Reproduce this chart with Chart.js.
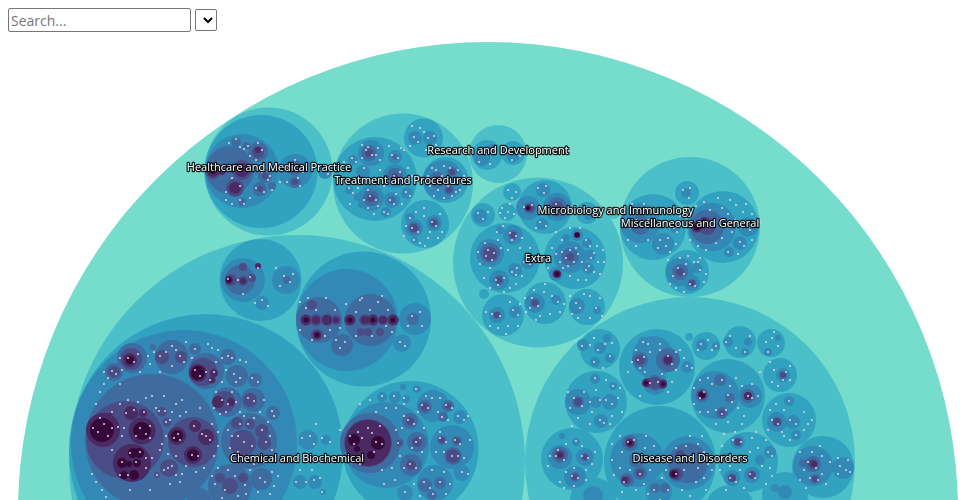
<!DOCTYPE html>
<html>
<head>
<meta charset="utf-8">
<title>Topic map</title>
<script src="https://cdn.jsdelivr.net/npm/chart.js@4"></script>
<style>
  html, body { margin: 0; padding: 0; background: #fff; overflow: hidden; }
  #topicMap { position: absolute; left: 0; top: 0; }
  #search {
    position: absolute; left: 8px; top: 8px; width: 183px; height: 24px; box-sizing: border-box;
    font: 14px "Open Sans", sans-serif; padding: 1px 2px; border: 1px solid #767676; border-radius: 2px;
  }
  #search::placeholder { color: #757575; }
  #filter {
    position: absolute; left: 195px; top: 9px; width: 22px; height: 22px; box-sizing: border-box;
    border: 1px solid #767676; border-radius: 2px; background-color: #fff;
  }
</style>
</head>
<body>
<canvas id="topicMap" width="960" height="500"></canvas>
<input id="search" type="text" placeholder="Search...">
<select id="filter"></select>
<script>
// labels of the top level topics
const topicNames = ['Healthcare and Medical Practice', 'Treatment and Procedures', 'Research and Development',
  'Microbiology and Immunology', 'Miscellaneous and General', 'Extra', 'Chemical and Biochemical', 'Disease and Disorders'];
const topicLabelX = [269, 403, 498, 615.5, 690, 538, 297, 690];
const topicLabelY = [168, 181, 151, 211, 224, 259, 459, 459];

// circles per depth, each one is [x, y, r]
const rootCircle = [[488, 512, 470]];

const depth1 = [
  [268.5,171.5,64],[403,183.5,70],[498,154,29],[538,262.5,85],[690,227,70],[297,463,228],[690,462,165],[614,213,6]
];

const depth2 = [
  [261,171.5,56.5],[375,179,42],[423.5,138,19.5],[445.5,180,23],[425,224,24],
  [487,155,15],[513,153,12],
  [512,192,9],[545,207,27],[483,215,12],[507,212,9],[505,258,35],[575,258,31],[545,303,21],[587,307,18],[503,315,21],[484,294,5],[587,213,11],
  [653,227,33],[723,227,36],[687,193,12],[687,272,22],
  [206,451,137],[260.5,280,41],[363.5,319,67.5],[410.5,449,68],[316,442,18],[313,484,21],
  [600,349,20],[657,367,38],[706,346,14],[740,342,16],[771,343,14],[689,337,4],[780,375,17],[728,396,37],[789,420,27],[823,467,31],
  [596,402,31],[572,459,31],[660,462,56],[748,462,30],[785,495,23],[593,500,23],[730,510,25]
];

const depth3 = [
  [242,171,37],[295,171,17],[325,172,7],
  [371,153,13],[395,176,12],[371,198,13],[392,200,8],[353,160,5],[395,157,7],[407,193,6],[349,190,4],[361,205,3],[386,212,5],[363,172,7],[358,197,4],
  [415,138,7],[430,138,7],[443,180,20],[414,228,9],[434,223,8],[410,218,5],[415,240,3],
  [482,158,8],[492,150,6],[513,155,7],[505,148,3],
  [528,208,12],[557,207,14],[543,190,7],[542,224,6],[480,216,7],[589,214,6],
  [490,253,14],[513,235,10],[499,280,10],[515,270,7],[528,262,7],[500,230,4],
  [570,257,16],[556,274,7],[577,235,6],[587,243,5],[588,268,6],[590,255,6],[566,238,4],
  [535,303,10],[556,300,5],[577,306,8],[597,310,4],[497,315,8],[515,312,6],
  [640,223,20],[663,244,11],[675,228,5],
  [712,227,24],[748,227,10],[740,243,7],[729,252,5],
  [686,193,5],[680,272,14],[692,283,8],[697,268,5],
  [184,443,113],[347,320,51],[415,319,16],[402,343,9],[243,280,22],[286,280,14],[262,303,7],
  [386,445,43],[433,406,16],[460,417,7],[452,447,22],[462,473,8],[435,483,18],[405,493,8],[395,397,6],[382,397,5],[406,399,4],[417,389,4],[403,387,3],
  [308,440,10],[326,440,5],[300,482,7],[315,482,7],[323,492,3],
  [653,357,21],[687,367,6],[643,342,5],[655,383,12],
  [715,395,24],[750,396,12],[583,345,6],[600,348,6],[610,358,5],[607,338,4],[595,362,5],
  [702,345,6],[716,346,4],[728,342,5],[745,352,4],[748,342,4],[778,338,3],[768,352,4],[783,375,7],
  [777,422,10],[793,422,7],[789,401,5],[796,435,5],
  [813,466,20],[843,468,11],
  [578,402,13],[596,402,6],[610,402,8],[601,421,7],[595,379,5],[613,386,4],
  [560,457,12],[585,457,9],[575,477,11],[576,442,4],[562,436,3],
  [637,460,27],[688,463,27],[659,492,13],[738,442,7],[752,475,8],[732,478,8],[770,452,6],[726,458,5],[760,460,5],
  [785,492,7],[775,488,4],[593,496,10]
];

const depth4 = [
  [230,170,24],[258,152,10],[236,142,5],[246,146,4],[265,176,7],[260,189,7],[272,186,4],[242,202,4],[228,154,3],[295,168,8],[295,182,6],
  [369,153,8],[395,176,8],[371,198,8],[395,157,3],[392,200,4],[414,228,6],[434,223,5],[437,180,8],[452,172,5],[449,190,5],
  [530,208,6],[557,207,10],[490,253,10],[499,280,5],[513,235,5],[570,257,9],[556,274,4],[577,235,3],[535,303,5],[497,315,4],
  [640,225,10],[707,227,17],[680,272,8],[692,283,4],
  [152,441,67],[114,372,9],[132,358,15],[172,357,17],[206,371,18],[228,357,8],[195,349,6],[153,347,3],[237,376,11],[255,380,7],
  [227,402,15],[253,400,12],[273,413,7],[249,441,28],[230,486,22],[261,479,11],[199,500,12],[272,442,3],
  [319,320,23],[370.5,320,26],[342,345,11],[413,319,6],
  [240,280,15],[287,280,4],
  [370,443,30],[410,421,8],[399,443,5],[417,442,10],[411,465,11],[425,407,7],[448,406,6],[443,417,5],[442,440,5],[457,441,5],[453,456,9],[425,485,7],[440,483,6],[432,495,5],
  [640,360,8],[668,360,12],[655,383,8],
  [702,395,7],[720,380,6],[730,398,5],[748,396,7],[722,413,6],
  [637,460,8],[630,443,8],[627,480,7],[640,473,7],[677,474,8],[688,463,20],[655,488,5],[665,488,5],
  [777,422,5],[813,464,8],[815,479,5],[803,463,4],[560,455,8],[578,402,6],[585,457,4],[575,477,5],[783,375,4]
];

const depth5 = [
  [213,171,8],[242,170,10],[235,188,9],[258,152,6],[265,176,3],
  [369,153,4],[395,176,3],[414,228,4],[434,223,3],
  [557,207,6],[490,254,7],[570,257,4],
  [697,227,6],[707,226,9],[640,225,4],
  [125,440,39],[193,442,25],[162,412,5],[167,422,4.5],[169,468,9],[157,475,3],
  [114,372,6],[131,359,11],[162,357,7],[181,357,6],[203,372,14],[224,402,11],[250,400,7],
  [237,423,6],[250,424,5],[262,431,7],[243,443,13],[264,443,7],[240,453,7],[230,486,8],[243,478,5],[220,478,5],
  [306,320,6],[316,320,6],[327,320,6],[336,320,5],[317,335,6],[312,305,5],
  [350,320,6],[365,320,6],[373,320,6],[383,320,5],[393,320,6],[361,332,4],[368,332,4],[380,332,4],
  [231,280,6],[243,281,5],[252,278,4],[243,267,4],
  [368,443,24],[410,421,4],[453,456,7],
  [668,360,6],[655,383,6],[648,383,5],[662,384,5],
  [702,395,5],[748,396,4],
  [630,443,5],[625,480,4],[677,474,6],[680,455,5],
  [371,198,4],[437,180,4],[452,172,3],[449,190,3],[530,208,4],[499,280,3],[513,235,3],[535,303,3],[497,315,3],[680,272,4],[692,283,3],
  [813,464,5],[815,479,3],[560,455,5],[578,402,4],[585,457,3],[575,477,3],[783,375,3],[777,422,4],[640,360,5],[722,413,3],[738,442,4],[752,475,4],[732,478,4],
  [627,480,4],[640,473,4],[295,168,5],[295,182,3],[260,189,3],[425,407,4],[448,406,3],[442,440,3],[457,441,3],[417,442,5],[411,465,5],[399,443,3]
];

const depth6 = [
  [213,171,6],[222,172,3],[242,170,7],[235,188,6],[258,150,3],
  [697,227,5],[704,220,3],
  [103,430,17],[142,431,13.5],[132,463,19],[131,413,7],[143,413,4],[109,417,4],[177,436,9],[206,437,8],[195,426,6],[193,455,9],
  [130,360,7],[198,373,9],[214,373,4],[212,380,3.5],[218,402,6],[231,402,4],
  [368,443,23],[354,440,8],[378,443,9],[357,449,5],[371,455,6],[362,425,4],[383,430,3],
  [306,320,5],[316,320,4],[327,320,5],[336,320,3],[350,320,5],[365,320,4],[373,320,5],[383,320,4],[393,320,5],[317,335,4],
  [229,280,4],[243,281,3],[258,266,3],
  [674,474,5],[630,443,4],[557,274,4],[577,235,3],[668,360,4],[646,383,4],[663,384,4],[702,395,4],[748,396,4],[625,480,3],[640,225,3],[814,464,3],[560,455,3],[528,208,3]
];

const depth7 = [
  [102,430,12],[142,431,9],[133,453,5],[139,453,5],[122,463,5],[129,464,3],[137,463,4],[124,475,4],[134,475,5],[177,436,6],[193,455,6],
  [130,360,4],[198,373,7],[354,440,6],[378,443,7],[357,449,3],[371,455,4],[213,171,3],
  [306,320,2.5],[350,320,2.5],[373,320,2.5],[393,320,2.5],[317,335,2.5],[229,280,2.5],[557,274,2.5],[577,235,2.5],[528,208,2],[697,227,3],[702,395,3],[674,474,3],[630,443,2],[646,383,2],[663,384,2]
];

// tiny leaf topics on the edge of their groups
const leafDots = [
  [229,143,1],[236,139,1],[240,147,1],[248,146,1],[244,149,1],[250,156,1],[262,150,1],[256,160,1],[258,143,1],[268,180,1],[262,172,1],[270,176,1],[256,188,1],[264,192,1],[272,190,1],[280,182,1],
  [240,200,1],[244,204,1],[250,198,1],[226,200,1],[232,204,1],[287,168,1],[295,160,1],[303,172,1],[298,178,1],[287,182,1],[300,186,1],[322,170,1],[328,174,1],[226,192,1],[240,186,1],[232,178,1],
  [366,150,1],[372,155,1],[378,148,1],[362,158,1],[392,155,1],[398,158,1],[389,146,1],[404,150,1],[394,176,1],[400,172,1],[388,178,1],[395,183,1],[370,196,1],[376,200,1],[364,200,1],[390,200,1],[394,204,1],[349,188,1],[353,193,1],[345,181,1],[358,176,1],[364,168,1],[352,158,1],[356,162,1],[384,212,1],[388,214,1],[374,214,1],[406,192,1],[410,196,1],
  [412,126,1],[420,128,1],[424,132,1],[414,137,1],[418,142,1],[428,138,1],[434,136,1],[436,145,1],[426,150,1],[410,146,1],[442,176,1],[436,170,1],[450,168,1],[456,178,1],[448,186,1],[438,190,1],[456,192,1],[430,186,1],[462,184,1],[444,198,1],
  [416,212,1],[410,218,1],[412,228,1],[418,232,1],[432,222,1],[436,226,1],[440,214,1],[424,208,1],[428,238,1],[420,243,1],[414,240,1],[442,232,1],
  [480,150,1],[486,154,1],[479,162,1],[490,164,1],[494,148,1],[510,148,1],[516,152,1],[512,160,1],[520,156,1],
  [508,190,1],[516,192,1],[512,198,1],[538,188,1],[546,186,1],[544,193,1],[524,207,1],[532,205,1],[556,204,1],[562,208,1],[540,222,1],[546,226,1],[536,228,1],
  [478,213,1],[483,219,1],[488,212,1],[502,208,1],[510,204,1],[514,214,1],[505,218,1],[500,213,1],[508,212,1],
  [488,250,1],[494,253,1],[486,256,1],[492,260,1],[510,233,1],[516,236,1],[512,240,1],[496,280,1],[504,278,1],[498,285,1],[517,268,1],[512,272,1],[516,275,1],[528,256,1],[530,264,1],[524,262,1],[503,226,1],[497,232,1],
  [562,252,1],[566,258,1],[570,250,1],[574,262,1],[568,266,1],[578,254,1],[586,240,1],[590,246,1],[589,266,1],[586,270,1],[594,253,1],[591,258,1],[570,276,1],[578,280,1],[586,280,1],[598,262,1],[562,240,1],[597,246,1],
  [532,298,1],[538,306,1],[530,308,1],[544,292,1],[552,296,1],[558,302,1],[550,314,1],[540,316,1],[576,303,1],[580,308,1],[590,296,1],[596,308,1],[590,318,1],[578,318,1],[492,314,1],[500,316,1],[513,310,1],[518,315,1],[508,326,1],[498,328,1],[510,302,1],
  [636,220,1],[642,226,1],[630,228,1],[648,220,1],[634,212,1],[660,240,1],[666,246,1],[658,248,1],[668,238,1],[674,228,1],[677,232,1],[683,190,1],[690,188,1],[689,198,1],
  [710,210,1],[722,208,1],[728,214,1],[735,220,1],[732,232,1],[722,238,1],[716,243,1],[744,225,1],[750,230,1],[740,242,1],[744,246,1],[728,252,1],[760,222,1],[743,212,1],[736,205,1],
  [678,268,1],[684,274,1],[673,276,1],[694,262,1],[700,270,1],[698,262,1],[690,284,1],[695,286,1],[680,258,1],[688,256,1],[676,288,1],
  [104,424,1],[98,432,1],[108,436,1],[93,428,1],[112,428,1],[100,418,1],[140,428,1],[146,434,1],[136,436,1],[150,426,1],[150,438,1],[118,427,1],[124,428,1],[122,436,1],[126,413,1],[134,410,1],[144,412,1],[112,412,1],
  [130,453,1],[140,452,1],[122,462,1],[136,462,1],[128,475,1],[120,475,1],[146,458,1],[112,450,1],[178,434,1],[180,440,1],[174,438,1],[206,436,1],[210,440,1],[202,434,1],[192,455,1],[198,456,1],[194,426,1],
  [128,358,1],[134,362,1],[138,354,1],[160,356,1],[166,352,1],[172,346,1],[180,356,1],[184,362,1],[172,366,1],[112,371,1],[116,374,1],[195,370,1],[200,376,1],[206,372,1],[214,372,1],[210,380,1],[195,349,1],[228,356,1],[232,358,1],[222,358,1],
  [234,374,1],[240,378,1],[236,382,1],[252,378,1],[258,382,1],[222,400,1],[228,404,1],[232,392,1],[236,402,1],[216,392,1],[248,398,1],[254,401,1],[264,400,1],[272,411,1],[274,416,1],
  [240,424,1],[248,424,1],[262,430,1],[244,442,1],[238,436,1],[252,446,1],[266,442,1],[238,452,1],[258,456,1],[225,490,1],[235,476,1],[245,485,1],[228,470,1],[215,484,1],[260,478,1],[265,482,1],[272,472,1],
  [96,404,1],[100,392,1],[104,384,1],[108,378,1],[92,474,1],[96,482,1],[102,490,1],[106,497,1],[212,348,1],[208,344,1],[218,350,1],[240,360,1],[246,362,1],
  [159,411,1],[165,411,1],[166,422,1],[170,420,1],[168,468,1],[172,466,1],[164,470,1],[176,475,1],[157,475,1],
  [302,438,1],[310,436,1],[314,444,1],[322,438,1],[330,442,1],[316,424,1],[296,482,1],[306,482,1],[314,480,1],[320,478,1],[322,492,1],[312,470,1],[300,470,1],
  [300,302,1],[308,298,1],[326,298,1],[335,310,1],[345,342,1],[340,348,1],[336,340,1],[360,300,1],[382,296,1],[378,302,1],[388,310,1],[412,316,1],[420,312,1],[408,326,1],[422,326,1],[400,342,1],[405,346,1],
  [228,279,1],[238,280,1],[250,277,1],[258,268,1],[243,294,1],[255,303,1],[262,300,1],[268,306,1],[284,276,1],[290,282,1],[280,286,1],[293,274,1],[276,268,1],
  [350,436,1],[358,432,1],[354,444,1],[362,438,1],[376,442,1],[382,444,1],[372,433,1],[368,428,1],[374,452,1],[380,426,1],[408,420,1],[414,424,1],[404,416,1],[416,442,1],[420,438,1],[412,448,1],[410,464,1],[416,468,1],[404,468,1],[398,443,1],
  [422,405,1],[428,408,1],[432,398,1],[446,405,1],[452,408,1],[442,417,1],[448,420,1],[458,416,1],[464,420,1],[440,438,1],[446,442,1],[455,440,1],[460,444,1],[452,456,1],[458,456,1],[462,472,1],[468,474,1],[440,432,1],[382,396,1],[394,396,1],[404,398,1],[416,389,1],[424,482,1],[430,488,1],[440,482,1],[433,494,1],[405,492,1],
  [650,352,1],[660,350,1],[668,356,1],[672,364,1],[638,360,1],[644,357,1],[650,383,1],[658,382,1],[643,342,1],[640,368,1],[687,366,1],[692,368,1],[680,350,1],[684,358,1],
  [704,392,1],[700,398,1],[712,384,1],[722,380,1],[728,395,1],[732,402,1],[716,410,1],[722,414,1],[708,412,1],[736,378,1],[742,386,1],[748,396,1],[752,398,1],[758,396,1],
  [701,344,1],[708,340,1],[712,350,1],[698,350,1],[716,346,1],[726,342,1],[730,336,1],[736,348,1],[745,352,1],[750,336,1],[766,342,1],[772,338,1],[778,346,1],[768,352,1],[774,332,1],
  [774,370,1],[786,372,1],[783,380,1],[790,366,1],[778,386,1],[772,420,1],[778,424,1],[790,420,1],[796,424,1],[789,401,1],[796,435,1],[784,410,1],[804,412,1],[812,420,1],[784,436,1],
  [808,462,1],[816,468,1],[804,470,1],[810,478,1],[818,480,1],[822,456,1],[812,452,1],[840,466,1],[846,470,1],[838,474,1],[848,460,1],
  [574,398,1],[582,406,1],[570,408,1],[590,402,1],[600,400,1],[606,400,1],[612,404,1],[600,420,1],[604,423,1],[595,378,1],[613,386,1],[618,398,1],[596,390,1],
  [556,456,1],[564,460,1],[558,450,1],[582,456,1],[588,458,1],[572,476,1],[578,478,1],[574,468,1],[576,441,1],[566,472,1],[586,480,1],
  [590,345,1],[594,338,1],[605,344,1],[598,350,1],[610,356,1],[594,362,1],[582,346,1],[612,343,1],[603,368,1],
  [622,452,1],[620,468,1],[628,442,1],[634,440,1],[634,455,1],[642,462,1],[630,470,1],[645,448,1],[650,470,1],[624,482,1],[640,474,1],[636,490,1],[612,460,1],[614,475,1],
  [676,448,1],[686,446,1],[698,444,1],[704,452,1],[690,456,1],[684,470,1],[698,468,1],[708,464,1],[672,458,1],[696,482,1],[704,478,1],[676,474,1],[682,490,1],[668,490,1],[654,490,1],[660,500,1],
  [733,440,1],[741,442,1],[735,432,1],[752,438,1],[758,448,1],[768,452,1],[772,456,1],[726,456,1],[730,466,1],[740,470,1],[750,474,1],[755,478,1],[730,478,1],[736,482,1],[762,466,1],[770,468,1],[722,446,1],[750,452,1],
  // denser clusters
  [362,145,1],[368,147,1],[376,155,1],[380,160,1],[401,148,1],[408,168,1],[412,176,1],[404,180,1],[384,186,1],[380,170,1],[358,188,1],[368,190,1],[378,206,1],[368,208,1],[396,194,1],[402,204,1],[340,170,1],[344,162,1],[350,204,1],
  [432,168,1],[444,166,1],[458,170,1],[464,176,1],[460,190,1],[452,196,1],[428,176,1],[434,196,1],[424,216,1],[430,232,1],[438,238,1],[406,226,1],[404,236,1],[425,246,1],
  [576,248,1],[582,262,1],[563,268,1],[560,262,1],[556,254,1],[552,248,1],[548,268,1],[580,228,1],[570,228,1],[556,232,1],[603,250,1],[604,262,1],[594,272,1],[600,274,1],
  [545,284,1],[534,290,1],[525,298,1],[526,312,1],[536,320,1],[564,304,1],[560,312,1],[570,296,1],[584,294,1],[600,298,1],[602,316,1],[572,314,1],[486,312,1],[490,326,1],[506,334,1],[518,326,1],[520,304,1],
  [501,248,1],[485,243,1],[478,252,1],[480,264,1],[490,268,1],[498,240,1],[520,248,1],[522,238,1],[530,248,1],[508,250,1],[484,278,1],[490,288,1],[510,288,1],[516,284,1],[522,276,1],[504,292,1],
  [632,204,1],[644,204,1],[628,240,1],[636,246,1],[648,240,1],[672,210,1],[680,216,1],[670,252,1],[676,244,1],
  [718,198,1],[730,200,1],[746,204,1],[752,214,1],[752,240,1],[738,254,1],[706,250,1],[698,246,1],[696,206,1],[704,202,1],[690,240,1],
  [668,260,1],[670,284,1],[686,264,1],[706,274,1],[704,282,1],[684,292,1],[700,258,1],
  [226,412,1],[220,414,1],[214,408,1],[240,412,1],[260,412,1],[268,422,1],[244,416,1],[254,418,1],[228,430,1],[232,436,1],[270,436,1],[272,450,1],[230,448,1],[232,458,1],[246,460,1],[264,462,1],[254,464,1],
  [218,468,1],[212,476,1],[222,498,1],[238,496,1],[250,470,1],[246,494,1],[274,486,1],[278,476,1],[270,494,1],[258,492,1],
  [156,408,1],[172,412,1],[176,404,1],[180,416,1],[186,412,1],[200,408,1],[152,396,1],[146,398,1],[138,402,1],[128,400,1],[120,404,1],[164,396,1],[182,400,1],
  [146,468,1],[152,458,1],[160,450,1],[168,454,1],[176,456,1],[186,466,1],[182,474,1],[196,472,1],[204,468,1],[214,456,1],[218,446,1],[218,432,1],[212,424,1],[166,436,1],[162,444,1],[180,482,1],[170,484,1],[150,490,1],[130,490,1],
  [148,356,1],[150,364,1],[154,352,1],[176,350,1],[186,342,1],[192,358,1],[120,358,1],[122,370,1],[104,372,1],[120,384,1],[140,372,1],[160,372,1],[216,362,1],[222,382,1],[226,370,1],
  [300,330,1],[312,340,1],[325,336,1],[330,330,1],[316,310,1],[306,308,1],[340,328,1],[356,312,1],[370,310,1],[386,326,1],[372,336,1],[356,336,1],[392,332,1],[346,304,1],[362,298,1],
  [440,398,1],[438,412,1],[426,396,1],[418,412,1],[468,416,1],[470,440,1],[464,458,1],[444,452,1],[436,452,1],[432,470,1],[444,472,1],[450,484,1],[446,494,1],[420,496,1],[414,484,1],[404,404,1],[396,408,1],[424,428,1],
  [396,430,1],[402,428,1],[422,452,1],[400,456,1],[392,468,1],[382,470,1],[340,430,1],[348,462,1],[360,464,1],[386,408,1],[376,412,1],[370,400,1],[360,404,1],[395,480,1],[384,484,1],
  [632,362,1],[636,350,1],[648,344,1],[660,344,1],[676,352,1],[676,370,1],[662,374,1],[645,372,1],[628,372,1],[668,392,1],[672,382,1],[640,396,1],
  [700,380,1],[708,378,1],[694,388,1],[694,404,1],[700,412,1],[730,386,1],[726,410,1],[738,408,1],[744,416,1],[716,424,1],[728,422,1],[752,384,1],
  [776,404,1],[770,410,1],[782,432,1],[790,440,1],[804,430,1],[808,424,1],[768,430,1],[770,362,1],[790,380,1],[772,382,1],[760,372,1],
  [800,452,1],[800,480,1],[822,474,1],[826,484,1],[806,488,1],[830,462,1],[838,458,1],[850,472,1],[820,446,1],
  [568,392,1],[584,392,1],[592,412,1],[612,416,1],[590,424,1],[610,424,1],[606,380,1],[620,388,1],[622,412,1],[578,418,1],[572,426,1],
  [550,456,1],[548,466,1],[566,444,1],[582,446,1],[592,464,1],[595,452,1],[586,470,1],[560,482,1],[564,488,1],[574,486,1],
  [620,436,1],[612,444,1],[646,436,1],[654,446,1],[650,456,1],[622,492,1],[644,484,1],[648,494,1],[662,478,1],[666,470,1],[690,436,1],[702,436,1],[712,470,1],[706,490,1],[690,496,1],
  [724,434,1],[742,424,1],[756,432,1],[766,440,1],[772,476,1],[766,484,1],[744,488,1],[726,490,1],[720,470,1]
];

const levels = [rootCircle, depth1, depth2, depth3, depth4, depth5, depth6, depth7, leafDots];
const levelColors = ['#76dccb', '#4cc0c9', '#31a3c0', '#3389b5', '#3f6ca0', '#4a4c86', '#4a2a62', '#36083a', '#e4d4e2'];

// chart.js paints the first dataset last, so the deepest level goes first
const datasets = levels.map((circles, i) => ({
  data: circles.map(c => ({ x: c[0], y: c[1], r: c[2] })),
  backgroundColor: levelColors[i],
  borderWidth: 0,
  hoverBorderWidth: 0,
  clip: false
})).reverse();

const topicLabels = {
  id: 'topicLabels',
  afterDatasetsDraw(chart) {
    const ctx = chart.ctx;
    ctx.save();
    ctx.font = '11px "Open Sans", sans-serif';
    ctx.textAlign = 'center';
    ctx.textBaseline = 'middle';
    ctx.lineJoin = 'round';
    topicNames.forEach((name, i) => {
      const x = chart.scales.x.getPixelForValue(topicLabelX[i]);
      const y = chart.scales.y.getPixelForValue(topicLabelY[i]);
      ctx.strokeStyle = 'rgba(0, 0, 0, 0.85)';
      ctx.lineWidth = 2.5;
      ctx.strokeText(name, x, y);
      ctx.fillStyle = '#ffffff';
      ctx.fillText(name, x, y);
    });
    ctx.restore();
  }
};

new Chart(document.getElementById('topicMap'), {
  type: 'bubble',
  data: { datasets },
  plugins: [topicLabels],
  options: {
    responsive: false,
    animation: false,
    events: [],
    // the huge outer bubble would otherwise eat the whole chart area
    layout: { padding: 0, autoPadding: false },
    plugins: { legend: { display: false }, tooltip: { enabled: false } },
    scales: {
      x: { type: 'linear', min: 0, max: 960, display: false },
      y: { type: 'linear', min: 0, max: 500, reverse: true, display: false }
    }
  }
});
</script>
</body>
</html>
